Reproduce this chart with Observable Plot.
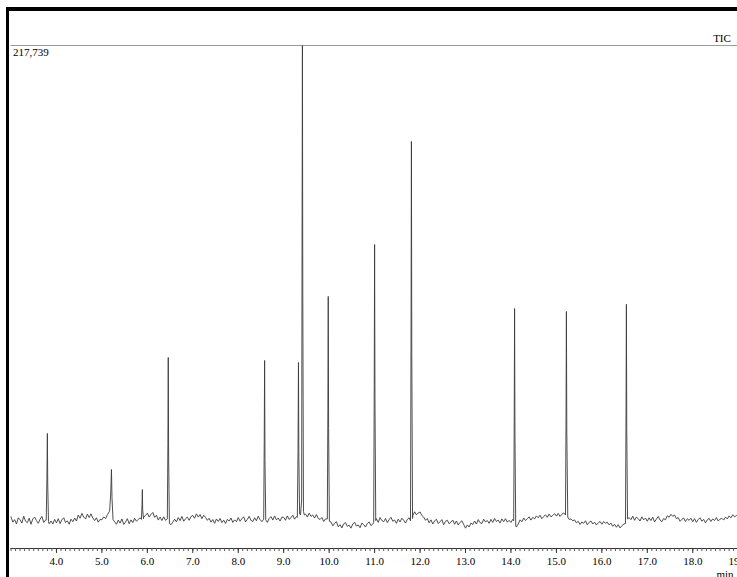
<!DOCTYPE html>
<html>
<head>
<meta charset="utf-8">
<script src="https://cdn.jsdelivr.net/npm/d3@7"></script>
<script src="https://cdn.jsdelivr.net/npm/@observablehq/plot@0.6"></script>
<style>
  html, body { margin: 0; padding: 0; background: #fff; overflow: hidden; }
  #wrap { position: relative; width: 737px; height: 577px; overflow: hidden; background: #fff; }
  #chart { position: absolute; left: 0; top: 0; width: 760px; }
  #chart svg { max-width: none !important; }
  #border { position: absolute; left: 6px; top: 7px; width: 760px; height: 600px;
            border-top: 4px solid #000; border-left: 3px solid #000; pointer-events: none; }
</style>
</head>
<body>
<div id="wrap"><div id="chart"></div><div id="border"></div></div>
<script>
// ---- data ----
const maxIntensity = 217739;
const maxLabel = "217,739";
const seriesLabel = "TIC";
const unitLabel = "min";
const baseStart = 3.0;   // min
const baseStep = 0.04;   // min
// baseline (noise) intensity, one value per 0.04 min from 3.00 to 19.00 (25 per minute)
const baseline = [
  13700, 11400, 12500, 10600, 13300, 12400, 11000, 14000, 11800, 11200, 13100, 10500, 12800, 13600, 12100, 10900, 12700, 13900, 11300, 12300, 12200, 10700, 11900, 10600, 12600,
  11100, 12900, 10800, 12400, 13300, 11200, 12000, 10500, 12700, 11600, 13200, 11900, 14500, 13100, 15200, 13600, 12800, 14900, 13400, 15000, 13200, 12100, 13300, 11400, 12600,
  12400, 13700, 12900, 14600, 15900, 16000, 16800, 11600, 10500, 12300, 11000, 12800, 10400, 11500, 12900, 10700, 12400, 11200, 13100, 11800, 12600, 13300, 12800, 13600, 14300,
  15300, 13600, 14800, 15600, 13500, 14400, 12300, 13600, 12100, 13700, 12200, 12800, 12000, 10300, 11400, 12700, 11500, 13400, 12100, 13900, 11800, 12900, 13600, 12200, 13800,
  14300, 13100, 15000, 13600, 14700, 12900, 14400, 13500, 12200, 13100, 11400, 12500, 10900, 12800, 11700, 13000, 11200, 12300, 10800, 12600, 11900, 13200, 11300, 12400, 11600,
  13400, 11800, 12900, 13700, 11500, 12600, 13900, 12200, 11700, 13300, 12000, 14000, 12500, 11600, 12700, 12900, 11300, 13000, 13800, 12300, 14100, 12400, 13200, 11900, 13600,
  13500, 12200, 14100, 12600, 13300, 14400, 12700, 13800, 13000, 13000, 13000, 13000, 14900, 13600, 15300, 13900, 14500, 13200, 14700, 13000, 12600, 13400, 11700, 12800, 11600,
  11000, 11500, 9800, 10900, 11600, 9400, 10300, 8900, 10700, 11200, 9600, 10100, 8800, 10600, 11400, 9700, 10200, 9000, 11000, 10400, 9300, 10800, 11500, 9900, 10600,
  12000, 12900, 11300, 13400, 12100, 11600, 13000, 11200, 12500, 13500, 11800, 12300, 10900, 12700, 11500, 13100, 12200, 11000, 12600, 13300, 12000, 14200, 15900, 14600, 15400,
  15800, 14300, 13600, 12200, 13000, 11100, 12400, 10600, 11900, 12700, 10800, 11600, 12500, 10300, 11800, 12200, 10700, 11400, 12300, 10500, 11900, 10200, 11300, 12000, 10400,
  8800, 10200, 9300, 11000, 10400, 11900, 10600, 12500, 11200, 10800, 12700, 11500, 12100, 10900, 12600, 11300, 13000, 11700, 12300, 11000, 12800, 11600, 12900, 11400, 12200,
  11300, 12600, 11800, 9300, 10600, 12400, 11600, 13200, 12100, 12900, 13700, 12300, 13500, 12800, 14100, 13300, 14400, 12900, 13800, 14600, 13500, 14900, 13700, 14300, 15100,
  14000, 15200, 13900, 14800, 15400, 14500, 14500, 14500, 12800, 12000, 12400, 11100, 11800, 10400, 11500, 10900, 12000, 10300, 11300, 11900, 10600, 11400, 10200, 11100, 11700,
  10500, 11700, 10900, 11400, 10200, 11000, 9600, 10500, 9200, 10300, 8900, 9800, 10600, 10800, 10800, 13400, 12500, 14000, 12200, 13600, 12900, 11900, 13700, 12400, 13200,
  11800, 13300, 12100, 13600, 11500, 12700, 13900, 12300, 11600, 13000, 12400, 14200, 13500, 14800, 13900, 14500, 12900, 13400, 11800, 12600, 13200, 11700, 12900, 12200, 13100,
  11600, 12900, 11300, 12500, 13300, 11800, 12600, 11100, 12400, 13000, 11700, 12800, 12100, 13400, 11900, 12700, 13100, 12300, 13600, 12800, 14100, 13300, 14600, 13700, 14300, 14000
];
// peak profiles: [time (min), intensity]
const peaks = [
  [[3.775, 12300], [3.790, 30000], [3.800, 49800], [3.808, 28000], [3.825, 11600]],
  [[5.170, 16200], [5.195, 24000], [5.210, 34200], [5.222, 22000], [5.245, 12500]],
  [[5.870, 12600], [5.883, 19000], [5.890, 25500], [5.897, 17000], [5.915, 12900]],
  [[6.440, 12800], [6.452, 45000], [6.460, 82700], [6.468, 40000], [6.485, 10800]],
  [[8.560, 12700], [8.572, 46000], [8.580, 81400], [8.588, 38000], [8.605, 12400]],
  [[9.300, 13500], [9.315, 42000], [9.325, 80500], [9.333, 40000], [9.350, 15000], [9.370, 14500],
   [9.395, 21000], [9.403, 120000], [9.412, 217739], [9.420, 110000], [9.435, 16000], [9.455, 14500]],
  [[9.960, 12800], [9.972, 60000], [9.980, 109100], [9.988, 52000], [10.005, 11800]],
  [[10.980, 11300], [10.992, 70000], [11.000, 131600], [11.008, 65000], [11.025, 12100]],
  [[11.790, 12000], [11.802, 95000], [11.810, 176200], [11.818, 85000], [11.835, 13000]],
  [[14.060, 12000], [14.072, 55000], [14.080, 103900], [14.088, 50000], [14.105, 9800]],
  [[15.200, 14500], [15.212, 56000], [15.220, 102600], [15.229, 50000], [15.250, 13600], [15.280, 12600]],
  [[16.520, 10800], [16.532, 58000], [16.540, 105700], [16.548, 52000], [16.565, 12800]]
];
const majorTicks = [4, 5, 6, 7, 8, 9, 10, 11, 12, 13, 14, 15, 16, 17, 18, 19];
const minorTicks = d3.range(30, 196).map(d => d / 10);

// ---- assemble trace ----
const windows = peaks.map(p => [p[0][0], p[p.length - 1][0]]);
const pts = [];
baseline.forEach((v, i) => {
  const t = +(baseStart + i * baseStep).toFixed(3);
  if (!windows.some(([a, b]) => t >= a && t <= b)) pts.push({t, v});
});
peaks.forEach(p => p.forEach(([t, v]) => pts.push({t, v})));
pts.sort((a, b) => a.t - b.t);

const W = 760, H = 592;
const serif = "'Liberation Serif', 'Times New Roman', serif";
const chart = Plot.plot({
  width: W,
  height: H,
  marginTop: 45,
  marginBottom: H - 548,
  marginLeft: 10.5,
  marginRight: 0,
  style: {fontFamily: serif, fontSize: "11px", background: "#fff", color: "#000", maxWidth: "none"},
  x: {domain: [3, 3 + (W - 10.5) / 45.45], label: null},
  y: {domain: [0, maxIntensity], axis: null},
  marks: [
    Plot.ruleY([maxIntensity], {stroke: "#9a9a9a", strokeWidth: 1}),
    Plot.ruleY([0], {stroke: "#333", strokeWidth: 1}),
    Plot.axisX(minorTicks, {tickSize: 3, tickFormat: () => "", stroke: "#555", label: null}),
    Plot.axisX(majorTicks, {tickSize: 5, tickPadding: 4, tickFormat: d3.format(".1f"), stroke: "#333",
      fontSize: 11, fontFamily: serif, fill: "#000", label: null}),
    Plot.line(pts, {x: "t", y: "v", stroke: "#3a3a3a", strokeWidth: 0.9}),
    Plot.text([maxLabel], {frameAnchor: "top-left", dx: 2, dy: 3, lineAnchor: "top", textAnchor: "start",
      fontSize: 11, fontFamily: serif, fill: "#000"})
  ]
});
const svg = d3.select(chart);
svg.append("text").attr("x", 722).attr("y", 42)
  .attr("font-family", serif).attr("font-size", 11).attr("fill", "#000").text(seriesLabel);
svg.append("text").attr("x", 725).attr("y", 578)
  .attr("font-family", serif).attr("font-size", 11).attr("fill", "#000").text(unitLabel);
document.getElementById("chart").appendChild(chart);
</script>
</body>
</html>
